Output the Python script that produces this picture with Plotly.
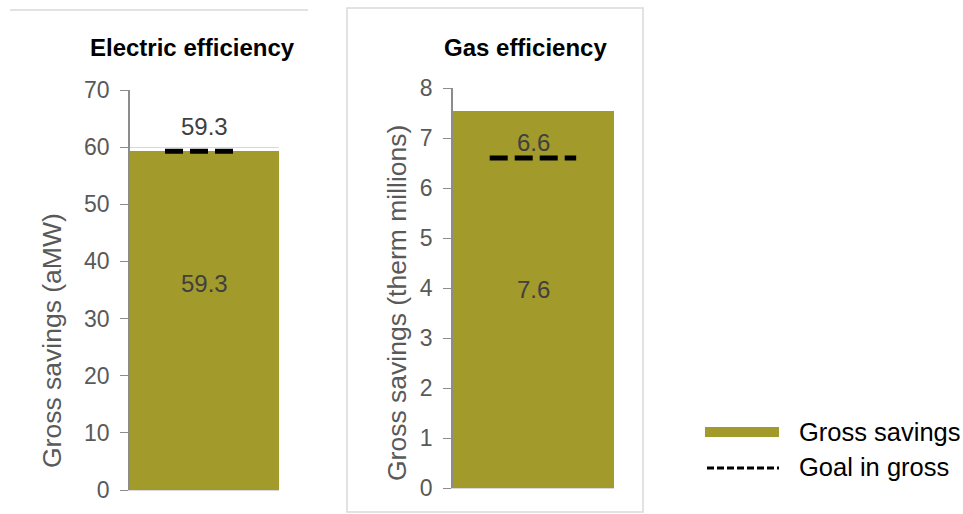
import plotly.graph_objects as go

W, H = 963, 514

# ---- data ----
panels = ["Electric efficiency", "Gas efficiency"]
axis_titles = ["Gross savings (aMW)", "Gross savings (therm millions)"]
gross_savings = [59.3, 7.55]
gross_labels = ["59.3", "7.6"]
goal_in_gross = [59.3, 6.6]
goal_labels = ["59.3", "6.6"]
y_max = [70, 8]
y_dtick = [10, 1]
legend_names = ["Gross savings", "Goal in gross"]

# ---- styling ----
OLIVE = "#A39A2C"
FONT = "Liberation Sans, Arial, sans-serif"
TICK_C = "#595959"
LABEL_C = "#404040"
GRID_C = "#D9D9D9"
AXIS_C = "#8C8C8C"

def px_x(p):
    return p / W

def px_y(p):
    return 1 - p / H

# pixel boxes of plot areas (left, right, top, bottom)
boxes = [(130, 279, 90, 490), (453, 614, 88, 488)]
title_pos = [(192, 47), (525, 47)]
ytitle_pos = [(52, 341), (397, 303)]
goal_x = [(-0.265, 0.2), (-0.272, 0.265)]
goal_label_shift = [25, 16]
inner_label_frac = [0.61, 0.525]

fig = go.Figure()
annotations = []
shapes = []

for i in range(2):
    xa = "x" if i == 0 else "x2"
    ya = "y" if i == 0 else "y2"
    fig.add_trace(go.Bar(
        x=[0], y=[gross_savings[i]], width=[1.0], marker=dict(color=OLIVE, line=dict(width=0)),
        xaxis=xa, yaxis=ya, showlegend=False, hoverinfo="skip",
    ))
    fig.add_trace(go.Scatter(
        x=list(goal_x[i]), y=[goal_in_gross[i], goal_in_gross[i]], mode="lines",
        line=dict(color="black", width=5, dash="18px,7px"),
        xaxis=xa, yaxis=ya, showlegend=False, hoverinfo="skip",
    ))
    # data labels
    annotations.append(dict(
        x=0, y=goal_in_gross[i], xref=xa, yref=ya, text=goal_labels[i], showarrow=False,
        yshift=goal_label_shift[i], yanchor="middle",
        font=dict(family=FONT, size=24, color=LABEL_C),
    ))
    annotations.append(dict(
        x=0, y=gross_savings[i] * inner_label_frac[i], xref=xa, yref=ya, text=gross_labels[i],
        showarrow=False, yanchor="middle",
        font=dict(family=FONT, size=24, color=LABEL_C),
    ))
    # titles
    tx, ty = title_pos[i]
    annotations.append(dict(
        x=px_x(tx), y=px_y(ty), xref="paper", yref="paper", text="<b>%s</b>" % panels[i],
        showarrow=False, xanchor="center", yanchor="middle",
        font=dict(family=FONT, size=24, color="black"),
    ))
    ax_, ay_ = ytitle_pos[i]
    annotations.append(dict(
        x=px_x(ax_), y=px_y(ay_), xref="paper", yref="paper", text=axis_titles[i],
        showarrow=False, xanchor="center", yanchor="middle", textangle=-90,
        font=dict(family=FONT, size=26.5, color=TICK_C),
    ))

l, r, t, b = boxes[0]
l2, r2, t2, b2 = boxes[1]
common_x = dict(range=[-0.5, 0.5], showticklabels=False, showgrid=False, zeroline=False,
                showline=True, linecolor=GRID_C, linewidth=1, fixedrange=True,
                automargin=False)
def yaxis_cfg(i):
    return dict(
        range=[0, y_max[i]], dtick=y_dtick[i], tick0=0,
        showgrid=True, gridcolor=GRID_C, gridwidth=1, zeroline=False,
        showline=True, linecolor=AXIS_C, linewidth=1.5,
        ticks="outside", ticklen=8, tickcolor=AXIS_C, tickwidth=1,
        tickfont=dict(family=FONT, size=23, color=TICK_C),
        ticklabelstandoff=6,
        automargin=False, fixedrange=True,
    )

fig.update_layout(
    width=W, height=H, autosize=False,
    margin=dict(l=0, r=0, t=0, b=0, pad=0),
    paper_bgcolor="white", plot_bgcolor="white",
    showlegend=False, bargap=0,
    xaxis=dict(domain=[px_x(l), px_x(r)], anchor="y", **common_x),
    yaxis=dict(domain=[px_y(b), px_y(t)], anchor="x", **yaxis_cfg(0)),
    xaxis2=dict(domain=[px_x(l2), px_x(r2)], anchor="y2", **common_x),
    yaxis2=dict(domain=[px_y(b2), px_y(t2)], anchor="x2", **yaxis_cfg(1)),
)

# chart frames
shapes.append(dict(type="line", xref="paper", yref="paper",
                   x0=px_x(10), x1=px_x(308), y0=px_y(10), y1=px_y(10),
                   line=dict(color=GRID_C, width=1.5)))
shapes.append(dict(type="rect", xref="paper", yref="paper",
                   x0=px_x(347), x1=px_x(643), y0=px_y(512), y1=px_y(8),
                   line=dict(color=GRID_C, width=1.5), fillcolor="rgba(0,0,0,0)"))

# manual legend
shapes.append(dict(type="rect", xref="paper", yref="paper",
                   x0=px_x(705), x1=px_x(779), y0=px_y(437), y1=px_y(427),
                   line=dict(width=0), fillcolor=OLIVE))
shapes.append(dict(type="line", xref="paper", yref="paper",
                   x0=px_x(707), x1=px_x(779), y0=px_y(468), y1=px_y(468),
                   line=dict(color="black", width=3, dash="7px,3px")))
for name, yy in zip(legend_names, [432, 467]):
    annotations.append(dict(
        x=px_x(797), y=px_y(yy), xref="paper", yref="paper", text=name, showarrow=False,
        xanchor="left", yanchor="middle", font=dict(family=FONT, size=25.5, color="black"),
    ))

fig.update_layout(annotations=annotations, shapes=shapes)
fig.write_html("out.html")
